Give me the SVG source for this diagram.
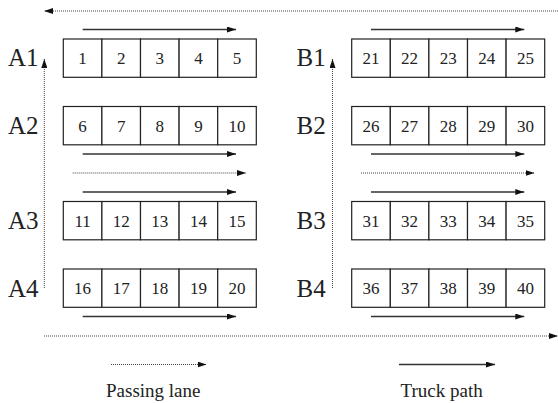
<svg xmlns="http://www.w3.org/2000/svg" width="558" height="403" viewBox="0 0 558 403">
<defs>
<marker id="ah" markerUnits="userSpaceOnUse" markerWidth="9" markerHeight="6" refX="9" refY="3" orient="auto">
<path d="M0,0 L9,3 L0,6 z" fill="#111"/>
</marker>
<style>
.cell{fill:#fff;stroke:#222;stroke-width:1.2}
.num{font-family:"Liberation Serif",serif;font-size:17px;fill:#222;text-anchor:middle}
.lbl{font-family:"Liberation Serif",serif;font-size:25px;fill:#222}
.leg{font-family:"Liberation Serif",serif;font-size:19px;fill:#222}
.truck{stroke:#333;stroke-width:1.3;fill:none;marker-end:url(#ah)}
.pass{stroke:#444;stroke-width:1;stroke-dasharray:1 1;fill:none;marker-end:url(#ah)}
</style>
</defs>
<g id="connectors">
<line class="pass" x1="558" y1="11" x2="44" y2="11"/>
<line class="pass" x1="44" y1="336" x2="558" y2="336"/>
<line class="pass" x1="44.3" y1="288" x2="44.3" y2="59"/>
<line class="pass" x1="332.5" y1="288" x2="332.5" y2="59"/>
<line class="truck" x1="82.7" y1="29.5" x2="236" y2="29.5"/>
<line class="truck" x1="82.7" y1="154" x2="236" y2="154"/>
<line class="truck" x1="82.7" y1="192" x2="236" y2="192"/>
<line class="truck" x1="82.7" y1="316.5" x2="236" y2="316.5"/>
<line class="pass" x1="72.7" y1="173" x2="246" y2="173"/>
<line class="truck" x1="371" y1="29.5" x2="524.3" y2="29.5"/>
<line class="truck" x1="371" y1="154" x2="524.3" y2="154"/>
<line class="truck" x1="371" y1="192" x2="524.3" y2="192"/>
<line class="truck" x1="371" y1="316.5" x2="524.3" y2="316.5"/>
<line class="pass" x1="361" y1="173" x2="534.5" y2="173"/>
</g>
<g id="A1">
<text class="lbl" x="8" y="65.5">A1</text>
<rect class="cell" x="63.3" y="39" width="38.6" height="38.3"/><rect class="cell" x="101.9" y="39" width="38.6" height="38.3"/><rect class="cell" x="140.5" y="39" width="38.6" height="38.3"/><rect class="cell" x="179.1" y="39" width="38.6" height="38.3"/><rect class="cell" x="217.7" y="39" width="38.6" height="38.3"/>
<text class="num" x="82.6" y="64.3">1</text><text class="num" x="121.2" y="64.3">2</text><text class="num" x="159.8" y="64.3">3</text><text class="num" x="198.4" y="64.3">4</text><text class="num" x="237" y="64.3">5</text>
</g>
<g id="A2">
<text class="lbl" x="8" y="133.5">A2</text>
<rect class="cell" x="63.3" y="106.5" width="38.6" height="38.3"/><rect class="cell" x="101.9" y="106.5" width="38.6" height="38.3"/><rect class="cell" x="140.5" y="106.5" width="38.6" height="38.3"/><rect class="cell" x="179.1" y="106.5" width="38.6" height="38.3"/><rect class="cell" x="217.7" y="106.5" width="38.6" height="38.3"/>
<text class="num" x="82.6" y="131.8">6</text><text class="num" x="121.2" y="131.8">7</text><text class="num" x="159.8" y="131.8">8</text><text class="num" x="198.4" y="131.8">9</text><text class="num" x="237" y="131.8">10</text>
</g>
<g id="A3">
<text class="lbl" x="8" y="229">A3</text>
<rect class="cell" x="63.3" y="201.5" width="38.6" height="38.3"/><rect class="cell" x="101.9" y="201.5" width="38.6" height="38.3"/><rect class="cell" x="140.5" y="201.5" width="38.6" height="38.3"/><rect class="cell" x="179.1" y="201.5" width="38.6" height="38.3"/><rect class="cell" x="217.7" y="201.5" width="38.6" height="38.3"/>
<text class="num" x="82.6" y="226.8">11</text><text class="num" x="121.2" y="226.8">12</text><text class="num" x="159.8" y="226.8">13</text><text class="num" x="198.4" y="226.8">14</text><text class="num" x="237" y="226.8">15</text>
</g>
<g id="A4">
<text class="lbl" x="8" y="296.5">A4</text>
<rect class="cell" x="63.3" y="269" width="38.6" height="38.3"/><rect class="cell" x="101.9" y="269" width="38.6" height="38.3"/><rect class="cell" x="140.5" y="269" width="38.6" height="38.3"/><rect class="cell" x="179.1" y="269" width="38.6" height="38.3"/><rect class="cell" x="217.7" y="269" width="38.6" height="38.3"/>
<text class="num" x="82.6" y="294.3">16</text><text class="num" x="121.2" y="294.3">17</text><text class="num" x="159.8" y="294.3">18</text><text class="num" x="198.4" y="294.3">19</text><text class="num" x="237" y="294.3">20</text>
</g>
<g id="B1">
<text class="lbl" x="296.5" y="65.5">B1</text>
<rect class="cell" x="351.7" y="39" width="38.6" height="38.3"/><rect class="cell" x="390.3" y="39" width="38.6" height="38.3"/><rect class="cell" x="428.9" y="39" width="38.6" height="38.3"/><rect class="cell" x="467.5" y="39" width="38.6" height="38.3"/><rect class="cell" x="506.1" y="39" width="38.6" height="38.3"/>
<text class="num" x="371" y="64.3">21</text><text class="num" x="409.6" y="64.3">22</text><text class="num" x="448.2" y="64.3">23</text><text class="num" x="486.8" y="64.3">24</text><text class="num" x="525.4" y="64.3">25</text>
</g>
<g id="B2">
<text class="lbl" x="296.5" y="133.5">B2</text>
<rect class="cell" x="351.7" y="106.5" width="38.6" height="38.3"/><rect class="cell" x="390.3" y="106.5" width="38.6" height="38.3"/><rect class="cell" x="428.9" y="106.5" width="38.6" height="38.3"/><rect class="cell" x="467.5" y="106.5" width="38.6" height="38.3"/><rect class="cell" x="506.1" y="106.5" width="38.6" height="38.3"/>
<text class="num" x="371" y="131.8">26</text><text class="num" x="409.6" y="131.8">27</text><text class="num" x="448.2" y="131.8">28</text><text class="num" x="486.8" y="131.8">29</text><text class="num" x="525.4" y="131.8">30</text>
</g>
<g id="B3">
<text class="lbl" x="296.5" y="229">B3</text>
<rect class="cell" x="351.7" y="201.5" width="38.6" height="38.3"/><rect class="cell" x="390.3" y="201.5" width="38.6" height="38.3"/><rect class="cell" x="428.9" y="201.5" width="38.6" height="38.3"/><rect class="cell" x="467.5" y="201.5" width="38.6" height="38.3"/><rect class="cell" x="506.1" y="201.5" width="38.6" height="38.3"/>
<text class="num" x="371" y="226.8">31</text><text class="num" x="409.6" y="226.8">32</text><text class="num" x="448.2" y="226.8">33</text><text class="num" x="486.8" y="226.8">34</text><text class="num" x="525.4" y="226.8">35</text>
</g>
<g id="B4">
<text class="lbl" x="296.5" y="296.5">B4</text>
<rect class="cell" x="351.7" y="269" width="38.6" height="38.3"/><rect class="cell" x="390.3" y="269" width="38.6" height="38.3"/><rect class="cell" x="428.9" y="269" width="38.6" height="38.3"/><rect class="cell" x="467.5" y="269" width="38.6" height="38.3"/><rect class="cell" x="506.1" y="269" width="38.6" height="38.3"/>
<text class="num" x="371" y="294.3">36</text><text class="num" x="409.6" y="294.3">37</text><text class="num" x="448.2" y="294.3">38</text><text class="num" x="486.8" y="294.3">39</text><text class="num" x="525.4" y="294.3">40</text>
</g>
<g id="legend">
<line class="pass" x1="111" y1="364.5" x2="206.5" y2="364.5"/>
<text class="leg" x="106" y="397">Passing lane</text>
<line class="truck" x1="399" y1="364.5" x2="495" y2="364.5"/>
<text class="leg" x="400.5" y="397">Truck path</text>
</g>
</svg>
